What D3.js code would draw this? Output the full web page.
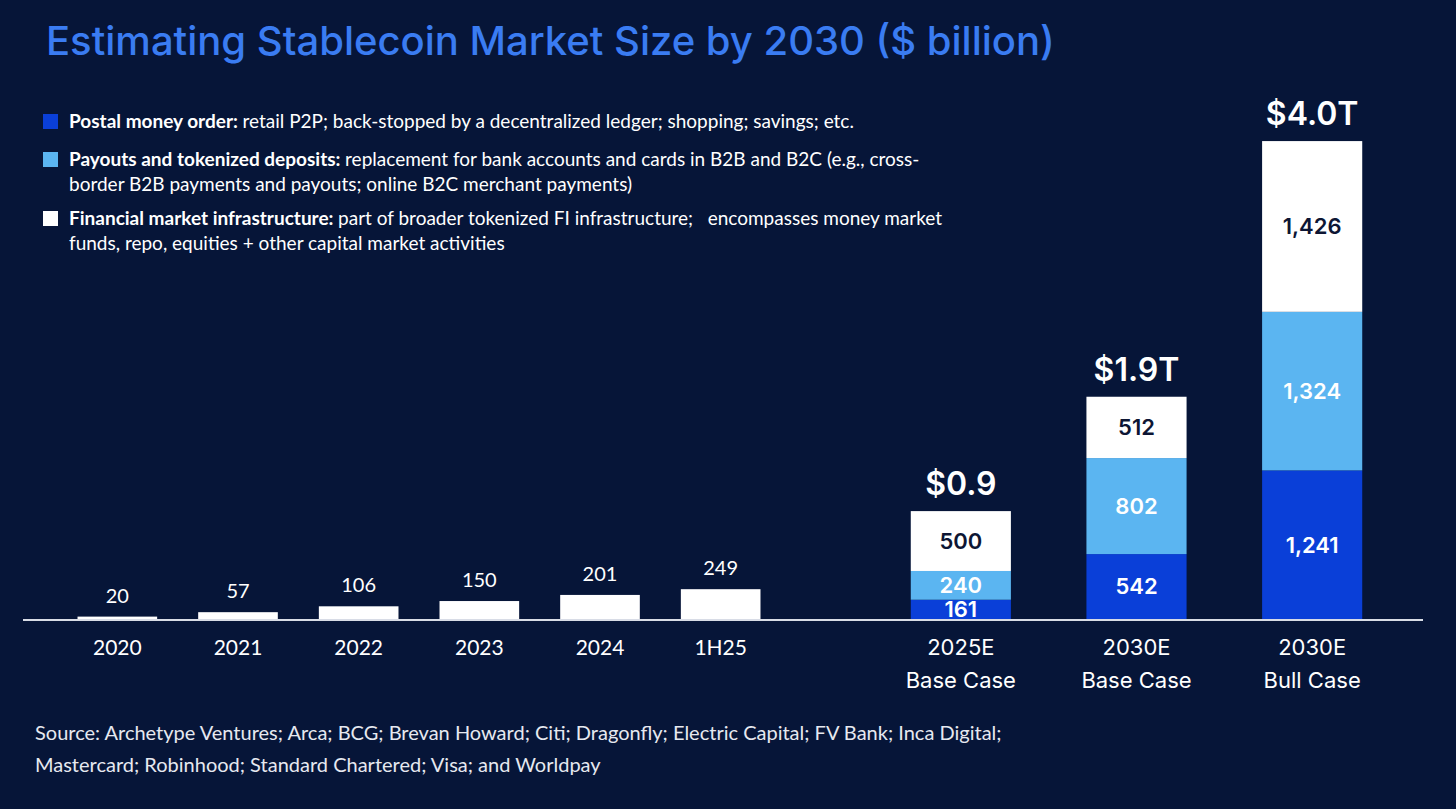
<!DOCTYPE html>
<html>
<head>
<meta charset="utf-8">
<script src="https://cdn.jsdelivr.net/npm/d3@7"></script>
<style>
  html, body { margin: 0; padding: 0; background: #061538; }
  svg { display: block; }
</style>
</head>
<body>
<div id="chart"></div>
<script>
// historical supply ($ billion)
var histLabels = ["2020", "2021", "2022", "2023", "2024", "1H25"];
var histValues = [20, 57, 106, 150, 201, 249];

// projections, stacked by segment
var projCats = ["2025E|Base Case", "2030E|Base Case", "2030E|Bull Case"];
var postalMoney = [161, 542, 1241];
var payouts = [240, 802, 1324];
var fmi = [500, 512, 1426];
var totalLabels = ["$0.9", "$1.9T", "$4.0T"];

var legendItems = [
    { bold: "Postal money order:", lines: ["retail P2P; back-stopped by a decentralized ledger; shopping; savings; etc."] },
    { bold: "Payouts and tokenized deposits:", lines: ["replacement for bank accounts and cards in B2B and B2C (e.g., cross-", "border B2B payments and payouts; online B2C merchant payments)"] },
    { bold: "Financial market infrastructure:", lines: ["part of broader tokenized FI infrastructure;\u00a0\u00a0 encompasses money market", "funds, repo, equities + other capital market activities"] }
];
var sourceLines = [
    "Source: Archetype Ventures; Arca; BCG; Brevan Howard; Citi; Dragonfly; Electric Capital; FV Bank; Inca Digital;",
    "Mastercard; Robinhood; Standard Chartered; Visa; and Worldpay"
];

var colors = ["#0a3fd8", "#5bb5f1", "#ffffff"];
var labelColors = ["#ffffff", "#ffffff", "#0d1634"];

var W = 1456, H = 809;
var baseY = 619;

var svg = d3.select("#chart")
    .append("svg")
    .attr("width", W)
    .attr("height", H);

svg.append("rect").attr("width", W).attr("height", H).attr("fill", "#061538");

// title
svg.append("text")
    .attr("x", 46)
    .attr("y", 55)
    .attr("fill", "#3a7cf2")
    .style("font-family", "Inter, sans-serif")
    .style("font-weight", 500)
    .style("font-size", "40px")
    .text("Estimating Stablecoin Market Size by 2030 ($ billion)");

// legend
var legY = [121, 159, 218];
legendItems.forEach(function (d, i) {
    var g = svg.append("g").attr("transform", "translate(0," + legY[i] + ")");
    g.append("rect")
        .attr("x", 43).attr("y", -7).attr("width", 15).attr("height", 15)
        .attr("fill", colors[i]);
    d.lines.forEach(function (line, j) {
        var t = g.append("text")
            .attr("x", 69)
            .attr("y", 7 + j * 25)
            .attr("fill", "#ffffff")
            .style("font-family", "Lato, sans-serif")
            .style("font-size", "19px");
        if (j === 0) {
            t.append("tspan").style("font-weight", 700).text(d.bold + " ");
        }
        t.append("tspan").text(line);
    });
});

// scales
var y = d3.scaleLinear()
    .domain([0, 4000])
    .range([baseY, 140]);

var xHist = d3.scaleBand()
    .domain(histLabels)
    .range([57, 781])
    .paddingInner(0.34)
    .paddingOuter(0.17);

var xProj = d3.scaleBand()
    .domain(projCats)
    .range([873, 1400])
    .paddingInner(0.43)
    .paddingOuter(0.215);

// historical bars
svg.selectAll("rect.hist")
    .data(histValues)
    .enter()
    .append("rect")
    .attr("class", "hist")
    .attr("x", function (d, i) { return xHist(histLabels[i]); })
    .attr("y", function (d) { return y(d); })
    .attr("width", xHist.bandwidth())
    .attr("height", function (d) { return baseY - y(d); })
    .attr("fill", "#ffffff");

svg.selectAll("text.histval")
    .data(histValues)
    .enter()
    .append("text")
    .attr("class", "histval")
    .attr("x", function (d, i) { return xHist(histLabels[i]) + xHist.bandwidth() / 2; })
    .attr("y", function (d) { return y(d) - 14; })
    .attr("text-anchor", "middle")
    .attr("fill", "#ffffff")
    .style("font-family", "Lato, sans-serif")
    .style("font-size", "20px")
    .text(function (d) { return d; });

// stacked projection bars
var rows = projCats.map(function (c, i) {
    return { cat: c, postal: postalMoney[i], payouts: payouts[i], fmi: fmi[i] };
});
var keys = ["postal", "payouts", "fmi"];
var series = d3.stack().keys(keys)(rows);

var layers = svg.selectAll("g.layer")
    .data(series)
    .enter()
    .append("g")
    .attr("class", "layer");

layers.selectAll("rect")
    .data(function (s, k) { return s.map(function (p) { return { p: p, k: k }; }); })
    .enter()
    .append("rect")
    .attr("x", function (d) { return xProj(d.p.data.cat); })
    .attr("y", function (d) { return y(d.p[1]); })
    .attr("width", xProj.bandwidth())
    .attr("height", function (d) { return y(d.p[0]) - y(d.p[1]); })
    .attr("fill", function (d) { return colors[d.k]; });

layers.selectAll("text")
    .data(function (s, k) { return s.map(function (p) { return { p: p, k: k }; }); })
    .enter()
    .append("text")
    .attr("x", function (d) { return xProj(d.p.data.cat) + xProj.bandwidth() / 2; })
    .attr("y", function (d) { return (y(d.p[0]) + y(d.p[1])) / 2; })
    .attr("dy", "0.36em")
    .attr("text-anchor", "middle")
    .attr("fill", function (d) { return labelColors[d.k]; })
    .style("font-family", "Inter, sans-serif")
    .style("font-weight", 600)
    .style("font-size", "22px")
    .text(function (d) { return d3.format(",")(d.p[1] - d.p[0]); });

// totals above bars
svg.selectAll("text.total")
    .data(rows)
    .enter()
    .append("text")
    .attr("class", "total")
    .attr("x", function (d) { return xProj(d.cat) + xProj.bandwidth() / 2; })
    .attr("y", function (d) { return y(d.postal + d.payouts + d.fmi) - 16; })
    .attr("text-anchor", "middle")
    .attr("fill", "#ffffff")
    .style("font-family", "Inter, sans-serif")
    .style("font-weight", 600)
    .style("font-size", "32px")
    .text(function (d, i) { return totalLabels[i]; });

// baseline
svg.append("line")
    .attr("x1", 23).attr("x2", 1423)
    .attr("y1", baseY + 1).attr("y2", baseY + 1)
    .attr("stroke", "#d8dce6")
    .attr("stroke-width", 2);

// category labels
svg.selectAll("text.histcat")
    .data(histLabels)
    .enter()
    .append("text")
    .attr("class", "histcat")
    .attr("x", function (d) { return xHist(d) + xHist.bandwidth() / 2; })
    .attr("y", 655)
    .attr("text-anchor", "middle")
    .attr("fill", "#ffffff")
    .style("font-family", "Lato, sans-serif")
    .style("font-size", "21px")
    .text(function (d) { return d; });

var projCat = svg.selectAll("text.projcat")
    .data(projCats)
    .enter()
    .append("text")
    .attr("class", "projcat")
    .attr("text-anchor", "middle")
    .attr("fill", "#ffffff")
    .style("font-family", "Inter, sans-serif")
    .style("font-size", "22px");

projCat.selectAll("tspan")
    .data(function (d) { return d.split("|").map(function (t) { return { t: t, x: xProj(d) + xProj.bandwidth() / 2 }; }); })
    .enter()
    .append("tspan")
    .attr("x", function (d) { return d.x; })
    .attr("y", function (d, i) { return 655 + i * 33; })
    .text(function (d) { return d.t; });

// source
svg.selectAll("text.source")
    .data(sourceLines)
    .enter()
    .append("text")
    .attr("class", "source")
    .attr("x", 35)
    .attr("y", function (d, i) { return 740 + i * 32; })
    .attr("fill", "#e6e9f0")
    .style("font-family", "Lato, sans-serif")
    .style("font-size", "20px")
    .text(function (d) { return d; });
</script>
</body>
</html>
